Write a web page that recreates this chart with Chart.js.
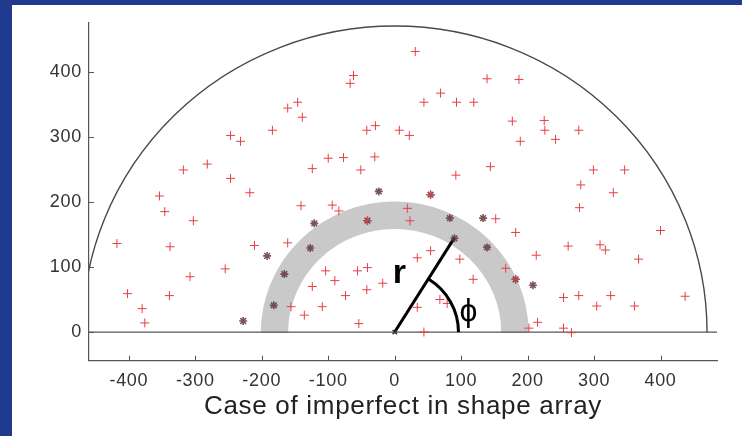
<!DOCTYPE html>
<html>
<head>
<meta charset="utf-8">
<script src="https://cdn.jsdelivr.net/npm/chart.js@4.4.0/dist/chart.umd.min.js"></script>
<style>
  html, body { margin: 0; padding: 0; width: 742px; height: 436px; overflow: hidden; background: #1f3a8f; }
  #panel { position: absolute; left: 12px; top: 5px; width: 730px; height: 431px; background: #fff; }
  canvas { display: block; }
</style>
</head>
<body>
<div id="panel"><canvas id="shapeChart" width="730" height="431"></canvas></div>
<script>
// tick labels
const xTicks = [-400, -300, -200, -100, 0, 100, 200, 300, 400];
const yTicks = [0, 100, 200, 300, 400];

// sensor positions (red +)
const crossX = [31, -62, -67, 139, 187, 69, 44, 93, 119, -146, -161, -139, -184, -247, -232, 177, 225, 226, 242, 277, 189,
  -29, -42, 7, 22, -100, -77, -124, -51, -30, -318, -282, -247, 92, 144, 299, 346,
  280, 329, 278, 152, 182, 400, 213, 261, 309, 317, 367, 167, 182, 254, 277, 325, 304, 361, 437, 215, 202, 254, 266,
  -218, -354, -346, -303, -418, -338, -211, -255, -308, -402, -339, -380, -376,
  -141, -94, -84, 19, 23, 54, -41, -161, 54, 34, 98, -104, -56, -41, -90, -18, -124, -42, 118, -74, -156, -109, 34, 68, 79, -136, -54, 44];
const crossY = [431, 394, 382, 389, 388, 367, 353, 353, 353, 353, 344, 330, 310, 302, 293, 324, 325, 310, 296, 310, 293,
  317, 310, 310, 302, 267, 268, 251, 249, 269, 249, 258, 236, 241, 254, 249, 249,
  226, 214, 191, 174, 153, 156, 118, 132, 134, 126, 112, 98, 81, 53, 56, 56, 40, 40, 55, 15, 6, 6, -1,
  214, 209, 185, 171, 136, 131, 133, 97, 85, 59, 56, 36, 14,
  194, 195, 186, 190, 171, 211, 171, 137, 125, 114, 112, 94, 94, 99, 79, 75, 70, 65, 81, 56, 39, 39, 38, 50, 44, 26, 13, 0];

// imperfect elements (dark *)
const starX = [-192, -228, -182, -166, -127, -121, -41, -24, 54, 83, 90, 133, 139, 182, 208];
const starY = [117, 17, 41, 89, 129, 167, 171, 216, 211, 175, 144, 175, 130, 81, 72];

// radius line r
const rLineX = [0, 90];
const rLineY = [0, 145];

const outerRadius = 470;
const bandInner = 160;
const bandOuter = 202;
const phiRadius = 96;

function toPoints(xs, ys) {
  return xs.map((v, i) => ({ x: v, y: ys[i] }));
}

const fontFamily = '"Liberation Sans", Arial, Helvetica, sans-serif';

const shapesPlugin = {
  id: 'shapes',
  beforeDraw(chart) {
    // the original lettering is a bit wide
    chart.ctx.letterSpacing = '0.7px';
  },
  beforeDatasetsDraw(chart) {
    const { ctx, chartArea, scales: { x, y } } = chart;
    const x0 = x.getPixelForValue(0);
    const y0 = y.getPixelForValue(0);
    const kx = x.getPixelForValue(1) - x0;
    const ky = y0 - y.getPixelForValue(1);
    ctx.save();
    ctx.beginPath();
    ctx.rect(chartArea.left, chartArea.top, chartArea.right - chartArea.left, chartArea.bottom - chartArea.top);
    ctx.clip();

    // gray band
    const mid = (bandInner + bandOuter) / 2;
    ctx.beginPath();
    ctx.ellipse(x0, y0 + 1, mid * kx, mid * ky, 0, Math.PI, 2 * Math.PI);
    ctx.lineWidth = (bandOuter - bandInner) * ky;
    ctx.strokeStyle = '#c9c9c9';
    ctx.lineCap = 'butt';
    ctx.stroke();

    // outer semicircle
    ctx.beginPath();
    ctx.ellipse(x0, y0, outerRadius * kx, outerRadius * ky, 0, Math.PI, 2 * Math.PI);
    ctx.lineWidth = 1.4;
    ctx.strokeStyle = '#4a4a4a';
    ctx.stroke();

    // zero line
    ctx.beginPath();
    ctx.moveTo(chartArea.left, y0);
    ctx.lineTo(chartArea.right, y0);
    ctx.lineWidth = 1.2;
    ctx.strokeStyle = '#555';
    ctx.stroke();
    ctx.restore();
  },
  afterDatasetsDraw(chart) {
    const { ctx, scales: { x, y } } = chart;
    const x0 = x.getPixelForValue(0);
    const y0 = y.getPixelForValue(0);
    const kx = x.getPixelForValue(1) - x0;
    const ky = y0 - y.getPixelForValue(1);
    const ang = Math.atan2(rLineY[1] * ky, rLineX[1] * kx);
    ctx.save();
    ctx.beginPath();
    ctx.ellipse(x0, y0, phiRadius * kx, phiRadius * ky, 0, -ang, 0);
    ctx.lineWidth = 3;
    ctx.strokeStyle = '#000';
    ctx.stroke();

    ctx.letterSpacing = '0px';
    ctx.fillStyle = '#000';
    ctx.textAlign = 'center';
    ctx.textBaseline = 'alphabetic';
    ctx.font = 'bold 34px ' + fontFamily;
    ctx.fillText('r', x.getPixelForValue(7), y.getPixelForValue(76));
    ctx.font = '32px ' + fontFamily;
    ctx.fillText('ϕ', x.getPixelForValue(111), y.getPixelForValue(17));
    ctx.restore();
  },
  afterDraw(chart) {
    // inward tick marks, like the original plot
    const { ctx, chartArea, scales: { x, y } } = chart;
    ctx.save();
    ctx.strokeStyle = '#555';
    ctx.lineWidth = 1;
    ctx.beginPath();
    xTicks.forEach(v => {
      const px = Math.round(x.getPixelForValue(v)) + 0.5;
      ctx.moveTo(px, chartArea.bottom);
      ctx.lineTo(px, chartArea.bottom - 5);
    });
    yTicks.forEach(v => {
      const py = Math.round(y.getPixelForValue(v)) + 0.5;
      ctx.moveTo(chartArea.left, py);
      ctx.lineTo(chartArea.left + 5, py);
    });
    ctx.stroke();
    ctx.restore();
  }
};

const ctx = document.getElementById('shapeChart').getContext('2d');
new Chart(ctx, {
  type: 'scatter',
  data: {
    datasets: [
      {
        data: toPoints(crossX, crossY),
        pointStyle: 'cross',
        pointRadius: 4.5,
        borderWidth: 1,
        borderColor: 'rgb(232,62,72)',
        backgroundColor: 'rgb(232,62,72)'
      },
      {
        data: toPoints(starX, starY),
        pointStyle: 'star',
        pointRadius: 4,
        borderWidth: 1.6,
        borderColor: 'rgba(100,55,60,0.85)',
        backgroundColor: 'rgba(100,55,60,0.85)'
      },
      {
        type: 'line',
        data: toPoints(rLineX, rLineY),
        borderColor: '#000',
        borderWidth: 3,
        pointStyle: 'crossRot',
        pointRadius: [3, 0],
        pointBorderWidth: 1.5,
        pointBorderColor: '#333',
        fill: false
      }
    ]
  },
  options: {
    responsive: false,
    animation: false,
    layout: { padding: { left: 0, top: 14, right: 25, bottom: 14 } },
    plugins: { legend: { display: false }, tooltip: { enabled: false } },
    scales: {
      x: {
        type: 'linear',
        min: -460,
        max: 485,
        afterBuildTicks: scale => { scale.ticks = xTicks.map(v => ({ value: v })); },
        afterFit: scale => { scale.height = 61.3; },
        grid: { display: true, drawOnChartArea: false, drawTicks: false },
        border: { display: true, color: '#555', width: 1.2 },
        ticks: { padding: 10, color: '#333', font: { family: fontFamily, size: 18 }, maxRotation: 0 },
        title: {
          display: true,
          text: 'Case of imperfect in shape array',
          color: '#222',
          font: { family: fontFamily, size: 26 },
          padding: { top: 0, bottom: 0 }
        }
      },
      y: {
        type: 'linear',
        min: -44,
        max: 475,
        afterBuildTicks: scale => { scale.ticks = yTicks.map(v => ({ value: v })); },
        afterFit: scale => { scale.width = 77; },
        grid: { display: true, drawOnChartArea: false, drawTicks: false },
        border: { display: true, color: '#555', width: 1.2 },
        ticks: { padding: 7, color: '#333', font: { family: fontFamily, size: 18 } }
      }
    }
  },
  plugins: [shapesPlugin]
});
</script>
</body>
</html>
